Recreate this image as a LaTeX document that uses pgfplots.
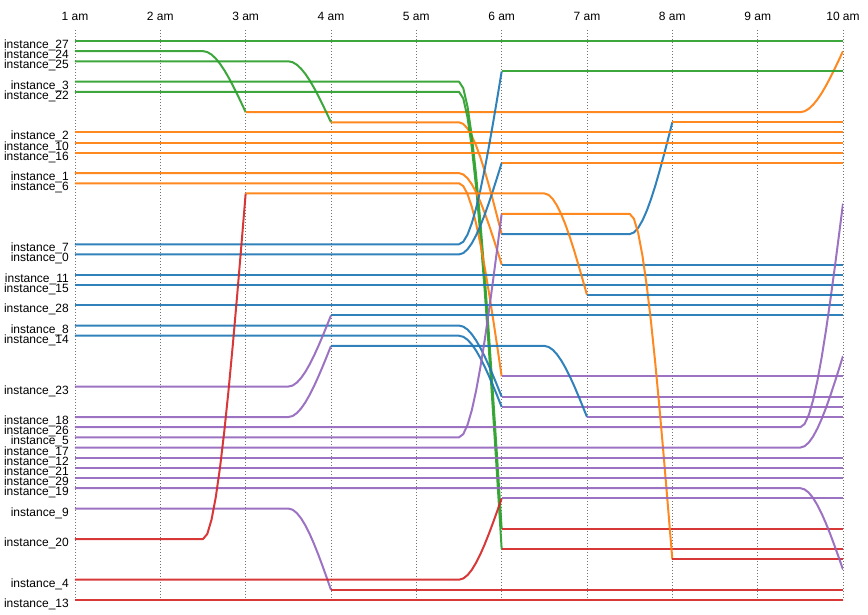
\documentclass[border=0pt]{standalone}
\usepackage{fontspec}
\setmainfont{Liberation Sans}
\usepackage{pgfplots}
\pgfplotsset{compat=1.18}
\definecolor{cG}{HTML}{2CA02C}
\definecolor{cO}{HTML}{FF7F0E}
\definecolor{cB}{HTML}{1F77B4}
\definecolor{cP}{HTML}{9467BD}
\definecolor{cR}{HTML}{D62728}
\pgfplotsset{
  lG/.style={color=cG, line width=2pt, line join=round, opacity=0.92},
  lO/.style={color=cO, line width=2pt, line join=round, opacity=0.92},
  lB/.style={color=cB, line width=2pt, line join=round, opacity=0.92},
  lP/.style={color=cP, line width=2pt, line join=round, opacity=0.92},
  lR/.style={color=cR, line width=2pt, line join=round, opacity=0.92},
}
% flat piece: style, from hour, to hour, slot
\newcommand\fl[4]{\addplot[#1] coordinates {(#2,#4) (#3,#4)};}
% piece: style, from hour, slot, hour reached, new slot
% (flat until half an hour before, then the easing curve)
\newcommand\tr[5]{%
  \pgfmathsetmacro\xa{#4-0.5}%
  \xdef\pts{(#2,#3) (\xa,#3)}%
  \foreach \u in {0.1,0.2,0.3,0.4,0.5,0.6,0.7,0.8,0.9}{%
    \pgfmathsetmacro\xx{#4-0.5+0.5*\u}%
    \pgfmathsetmacro\yy{#3+(#5-#3)*(1.5*\u*\u-0.5*\u*\u*\u)}%
    \xdef\pts{\pts (\xx,\yy)}%
  }%
  \xdef\pts{\pts (#4,#5)}%
  \edef\doplot{\noexpand\addplot[#1] coordinates {\pts};}%
  \doplot
}
\begin{document}
\begin{tikzpicture}
\begin{axis}[
  scale only axis, width=768pt, height=570pt,
  xmin=1, xmax=10, ymin=-1.082, ymax=55, y dir=reverse,
  axis line style={draw=none}, major tick length=0pt, tick style={draw=none},
  xtick={1,2,3,4,5,6,7,8,9,10},
  xticklabels={1 am,2 am,3 am,4 am,5 am,6 am,7 am,8 am,9 am,10 am},
  xticklabel pos=upper,
  xmajorgrids,
  grid style={color=black!55, line width=0.9pt, dash pattern=on 0.9pt off 2.1pt},
  ytick={0,1,2,4,5,9,10,11,13,14,20,21,23,24,26,28,29,34,37,38,39,40,41,42,43,44,46,49,53,55},
  yticklabels={instance\_27,instance\_24,instance\_25,instance\_3,instance\_22,instance\_2,instance\_10,instance\_16,instance\_1,instance\_6,instance\_7,instance\_0,instance\_11,instance\_15,instance\_28,instance\_8,instance\_14,instance\_23,instance\_18,instance\_26,instance\_5,instance\_17,instance\_12,instance\_21,instance\_29,instance\_19,instance\_9,instance\_20,instance\_4,instance\_13},
  xticklabel style={font=\fontsize{12}{14}\selectfont, anchor=base, inner sep=0pt, yshift=9.5pt},
  yticklabel style={font=\fontsize{12}{14}\selectfont, anchor=base east, inner sep=0pt, xshift=-6pt, yshift=-7.5pt},
]
% instance_27
\fl{lG}{1}{10}{0}
% instance_24
\tr{lG}{1}{1}{3}{7}
\tr{lO}{3}{7}{10}{1}
% instance_25
\tr{lG}{1}{2}{4}{8}
\tr{lO}{4}{8}{6}{19}
\tr{lB}{6}{19}{8}{8}
\fl{lO}{8}{10}{8}
% instance_3
\tr{lG}{1}{4}{6}{48}
\fl{lR}{6}{10}{48}
% instance_22
\tr{lG}{1}{5}{6}{50}
\fl{lR}{6}{10}{50}
% instance_2, 10, 16
\fl{lO}{1}{10}{9}
\fl{lO}{1}{10}{10}
\fl{lO}{1}{10}{11}
% instance_1
\tr{lO}{1}{13}{6}{22}
\fl{lB}{6}{10}{22}
% instance_6
\tr{lO}{1}{14}{6}{33}
\fl{lP}{6}{10}{33}
% instance_7
\tr{lB}{1}{20}{6}{3}
\fl{lG}{6}{10}{3}
% instance_0
\tr{lB}{1}{21}{6}{12}
\fl{lO}{6}{10}{12}
% instance_11, 15, 28
\fl{lB}{1}{10}{23}
\fl{lB}{1}{10}{24}
\fl{lB}{1}{10}{26}
% instance_8
\tr{lB}{1}{28}{6}{35}
\fl{lP}{6}{10}{35}
% instance_14
\tr{lB}{1}{29}{6}{36}
\fl{lP}{6}{10}{36}
% instance_23
\tr{lP}{1}{34}{4}{27}
\fl{lB}{4}{10}{27}
% instance_18
\tr{lP}{1}{37}{4}{30}
\tr{lB}{4}{30}{7}{37}
\fl{lP}{7}{10}{37}
% instance_26
\tr{lP}{1}{38}{10}{16}
% instance_5
\tr{lP}{1}{39}{6}{17}
\tr{lO}{6}{17}{8}{51}
\fl{lR}{8}{10}{51}
% instance_17
\tr{lP}{1}{40}{10}{31}
% instance_12, 21, 29
\fl{lP}{1}{10}{41}
\fl{lP}{1}{10}{42}
\fl{lP}{1}{10}{43}
% instance_19
\tr{lP}{1}{44}{10}{52}
% instance_9
\tr{lP}{1}{46}{4}{54}
\fl{lR}{4}{10}{54}
% instance_20
\tr{lR}{1}{49}{3}{15}
\tr{lO}{3}{15}{7}{25}
\fl{lB}{7}{10}{25}
% instance_4
\tr{lR}{1}{53}{6}{45}
\fl{lP}{6}{10}{45}
% instance_13
\fl{lR}{1}{10}{55}
\end{axis}
\path ([shift={(-75pt,-15pt)}]current axis.south west) rectangle ([shift={(25pt,30pt)}]current axis.north east);
\end{tikzpicture}
\end{document}
